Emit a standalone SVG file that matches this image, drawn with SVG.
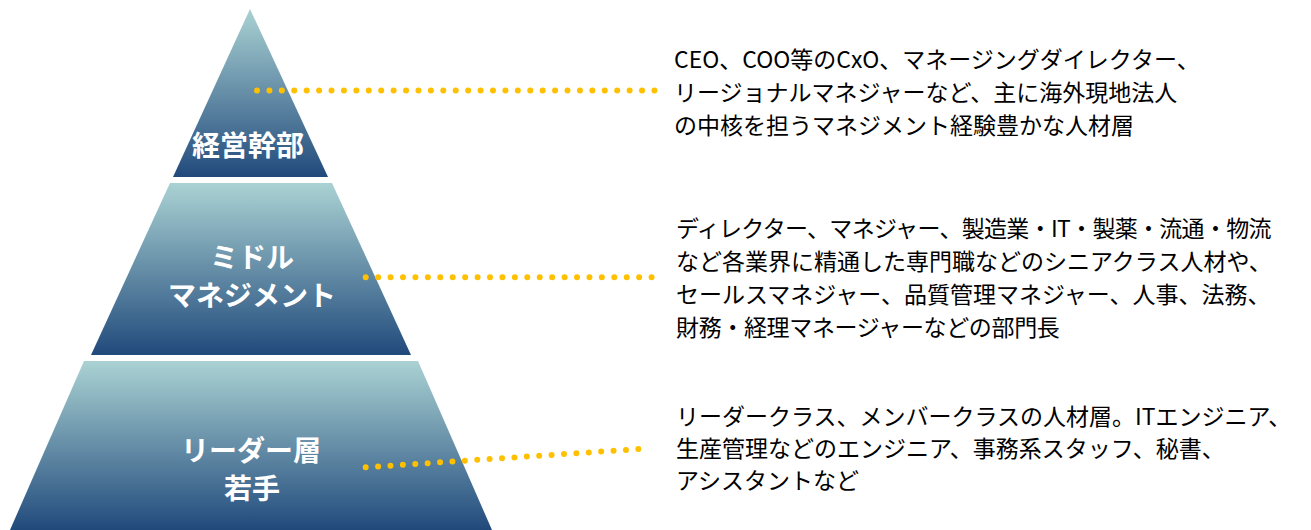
<svg xmlns="http://www.w3.org/2000/svg" width="1311" height="530" viewBox="0 0 1311 530">
  <defs>
    <linearGradient id="tier" x1="0" y1="0" x2="0" y2="1">
      <stop offset="0" stop-color="#aad2d3"/>
      <stop offset="1" stop-color="#214a7c"/>
    </linearGradient>
    <style>
      .tier { fill: url(#tier); }
      .lbl { font-family: "Noto Sans CJK JP", "Noto Sans", sans-serif; font-weight: bold; font-size: 28px; fill: #ffffff; text-anchor: middle; }
      .desc { font-family: "Noto Sans CJK JP", "Noto Sans", sans-serif; font-size: 23px; fill: #000000; }
      .dots { fill: none; stroke: #ffc000; stroke-width: 6; stroke-linecap: round; }
    </style>
  </defs>
  <rect width="1311" height="530" fill="#ffffff"/>

  <g id="tier-top">
    <polygon class="tier" points="250,9 328,177 173,177"/>
    <text class="lbl" x="248" y="156">経営幹部</text>
  </g>

  <g id="tier-middle">
    <polygon class="tier" points="170,183 332,183 411,355 91,355"/>
    <text class="lbl" x="252" y="268">ミドル</text>
    <text class="lbl" x="252" y="306">マネジメント</text>
  </g>

  <g id="tier-bottom">
    <polygon class="tier" points="84,361 418,361 492,530 10,530"/>
    <text class="lbl" x="251" y="461">リーダー層</text>
    <text class="lbl" x="252" y="499">若手</text>
  </g>

  <g id="connectors">
    <line class="dots" x1="257" y1="90.5" x2="654.5" y2="90.5" stroke-dasharray="0 12.42"/>
    <line class="dots" x1="365.7" y1="277.3" x2="651.6" y2="277.3" stroke-dasharray="0 12.43"/>
    <line class="dots" x1="365.7" y1="467.3" x2="650.7" y2="448.3" stroke-dasharray="0 12.42"/>
  </g>

  <g id="desc-top">
    <text class="desc" x="674" y="68">CEO、COO等のCxO、マネージングダイレクター、</text>
    <text class="desc" x="674" y="101">リージョナルマネジャーなど、主に海外現地法人</text>
    <text class="desc" x="674" y="134">の中核を担うマネジメント経験豊かな人材層</text>
  </g>

  <g id="desc-middle">
    <text class="desc" x="676" y="237" letter-spacing="-0.7">ディレクター、マネジャー、製造業・IT・製薬・流通・物流</text>
    <text class="desc" x="676" y="270">など各業界に精通した専門職などのシニアクラス人材や、</text>
    <text class="desc" x="676" y="303">セールスマネジャー、品質管理マネジャー、人事、法務、</text>
    <text class="desc" x="676" y="336" letter-spacing="-0.35">財務・経理マネージャーなどの部門長</text>
  </g>

  <g id="desc-bottom">
    <text class="desc" x="676" y="425">リーダークラス、メンバークラスの人材層。ITエンジニア、</text>
    <text class="desc" x="676" y="457">生産管理などのエンジニア、事務系スタッフ、秘書、</text>
    <text class="desc" x="676" y="489">アシスタントなど</text>
  </g>
</svg>
